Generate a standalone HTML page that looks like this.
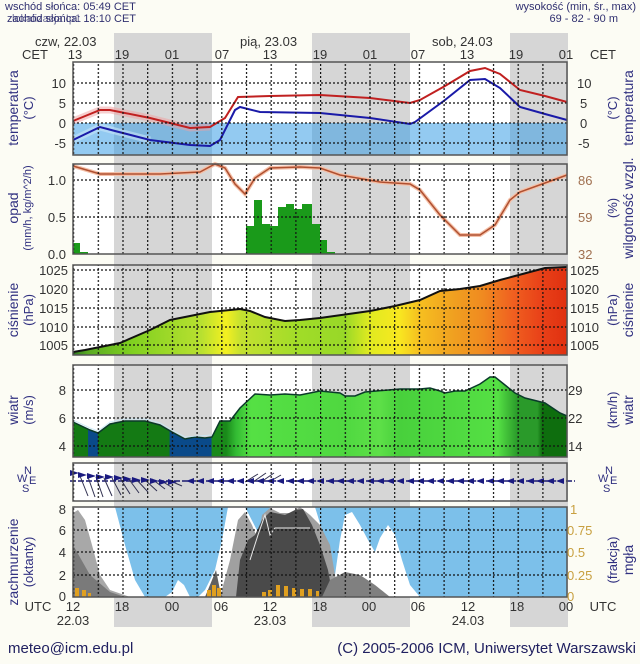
<!DOCTYPE html>
<html><head><meta charset="utf-8"><style>
html,body{margin:0;padding:0;background:#fcfcf4;}
svg{display:block;font-family:"Liberation Sans",sans-serif;}
</style></head><body>
<svg width="640" height="664" viewBox="0 0 640 664" xmlns="http://www.w3.org/2000/svg">
<defs>
<pattern id="vg" x="73" y="0" width="24.7" height="4" patternUnits="userSpaceOnUse"><rect x="0" y="0" width="1.2" height="2" fill="#111"/></pattern>
<linearGradient id="pg" x1="73" x2="567" y1="0" y2="0" gradientUnits="userSpaceOnUse">
<stop offset="0" stop-color="#2f7a20"/><stop offset="0.03" stop-color="#5aaa22"/><stop offset="0.12" stop-color="#80d020"/><stop offset="0.26" stop-color="#b8e030"/><stop offset="0.31" stop-color="#f4f020"/><stop offset="0.34" stop-color="#c4e030"/><stop offset="0.46" stop-color="#a0dc28"/><stop offset="0.55" stop-color="#98d828"/><stop offset="0.6" stop-color="#e0ea20"/><stop offset="0.66" stop-color="#f8e820"/><stop offset="0.7" stop-color="#f6c020"/><stop offset="0.77" stop-color="#f0a020"/><stop offset="0.83" stop-color="#f08a20"/><stop offset="0.89" stop-color="#f06020"/><stop offset="0.95" stop-color="#e84018"/><stop offset="1" stop-color="#e03010"/>
</linearGradient>
<linearGradient id="wg" x1="73" x2="567" y1="0" y2="0" gradientUnits="userSpaceOnUse">
<stop offset="0" stop-color="#147a14"/><stop offset="0.03" stop-color="#147a14"/><stop offset="0.031" stop-color="#0a4a8a"/><stop offset="0.05" stop-color="#0a4a8a"/><stop offset="0.051" stop-color="#147a14"/><stop offset="0.195" stop-color="#147a14"/><stop offset="0.196" stop-color="#0a4a8a"/><stop offset="0.28" stop-color="#0a4a8a"/><stop offset="0.281" stop-color="#1a8a1a"/><stop offset="0.31" stop-color="#1a8a1a"/><stop offset="0.33" stop-color="#33bb33"/><stop offset="0.36" stop-color="#55e044"/><stop offset="0.55" stop-color="#4fd840"/><stop offset="0.62" stop-color="#5ee048"/><stop offset="0.66" stop-color="#48d03c"/><stop offset="0.86" stop-color="#55e044"/><stop offset="0.9" stop-color="#2a9a2a"/><stop offset="0.94" stop-color="#2a9a2a"/><stop offset="0.95" stop-color="#0e6e0e"/><stop offset="1" stop-color="#0e6e0e"/>
</linearGradient>
</defs>

<text x="5" y="10" font-size="11" fill="#303070">wschód słońca: 05:49 CET</text>
<text x="7" y="22" font-size="11" fill="#303070">zachód słońca: 18:10 CET</text>
<text x="12" y="22" font-size="11" fill="#303070" opacity="0.7">lokalizacja:Ip1</text>
<text x="636" y="10" font-size="11" fill="#303070" text-anchor="end">wysokość (min, śr., max)</text>
<text x="618" y="22" font-size="11" fill="#303070" text-anchor="end">69 - 82 - 90 m</text>

<rect x="73" y="62" width="494" height="93" fill="#fff"/>
<rect x="73" y="164" width="494" height="90" fill="#fff"/>
<rect x="73" y="265" width="494" height="90" fill="#fff"/>
<rect x="73" y="365" width="494" height="92" fill="#fff"/>
<rect x="73" y="463" width="494" height="38" fill="#fff"/>

<g fill="#d6d6d6">
<rect x="114" y="33" width="98" height="594"/>
<rect x="312" y="33" width="98" height="594"/>
<rect x="510" y="33" width="58" height="594"/>
</g>
<rect x="73" y="507" width="494" height="90" fill="#fff"/>

<g font-size="13" fill="#333">
<text x="35" y="46">czw, 22.03</text>
<text x="240" y="46">pią, 23.03</text>
<text x="432" y="46">sob, 24.03</text>
<text x="22" y="59">CET</text>
<text x="590" y="59">CET</text>
<g text-anchor="middle">
<text x="75" y="59">13</text><text x="122" y="59">19</text><text x="172" y="59">01</text><text x="222" y="59">07</text><text x="270" y="59">13</text><text x="320" y="59">19</text><text x="370" y="59">01</text><text x="418" y="59">07</text><text x="467" y="59">13</text><text x="516" y="59">19</text><text x="566" y="59">01</text>
</g></g>

<rect x="73" y="123" width="494" height="32" fill="#3a9ee6" opacity="0.55"/>
<polyline fill="none" stroke="#f0a0a0" stroke-width="7" opacity="0.5" points="73,121 100,110 110,110 150,118 190,128 210,127"/>
<polyline fill="none" stroke="#c8e4f8" stroke-width="7" opacity="0.6" points="73,140 100,127 115,131 150,140"/>
<polyline fill="none" stroke="#c02020" stroke-width="2" points="73,121 100,110 110,110 150,118 190,128 210,127 225,118 238,97 270,96 320,95 370,98 410,103 420,100 445,86 470,71 485,68 500,74 520,90 545,96 567,102"/>
<polyline fill="none" stroke="#1a1aa8" stroke-width="2" points="73,140 100,127 115,131 150,140 190,145 210,146 220,140 235,110 240,107 260,112 320,113 370,118 410,124 415,122 445,100 470,80 485,79 500,88 520,107 545,114 567,120"/>

<g fill="#1a9a1a">
<rect x="73" y="243" width="7" height="11"/><rect x="80" y="252" width="8" height="2"/>
<rect x="246" y="226" width="8" height="28"/><rect x="254" y="200" width="8" height="54"/><rect x="262" y="224" width="8" height="30"/><rect x="270" y="226" width="8" height="28"/><rect x="278" y="207" width="8" height="47"/><rect x="286" y="204" width="8" height="50"/><rect x="294" y="209" width="8" height="45"/><rect x="302" y="204" width="10" height="50"/><rect x="312" y="224" width="8" height="30"/><rect x="320" y="240" width="7" height="14"/><rect x="327" y="252" width="8" height="2"/>
</g>
<polyline fill="none" stroke="#f4c0a8" stroke-width="4" points="73,166 100,174 160,174 200,172 215,164 225,168 235,184 245,194 255,178 270,168 300,167 320,168 340,175 380,182 410,184 420,190 440,215 460,235 480,235 495,225 510,200 520,192 545,183 567,175"/>
<polyline fill="none" stroke="#b05030" stroke-width="1.5" points="73,166 100,174 160,174 200,172 215,164 225,168 235,184 245,194 255,178 270,168 300,167 320,168 340,175 380,182 410,184 420,190 440,215 460,235 480,235 495,225 510,200 520,192 545,183 567,175"/>

<polygon fill="url(#pg)" points="73,355 73,352 85,350 110,345 120,343 150,330 170,320 190,316 210,312 240,309 250,311 265,317 285,321 300,320 320,318 370,311 395,306 420,300 440,291 460,289 480,286 500,280 515,276 530,272 545,268 567,267 567,355"/>
<polyline fill="none" stroke="#111" stroke-width="2" points="73,352 85,350 110,345 120,343 150,330 170,320 190,316 210,312 240,309 250,311 265,317 285,321 300,320 320,318 370,311 395,306 420,300 440,291 460,289 480,286 500,280 515,276 530,272 545,268 567,267"/>

<polygon fill="url(#wg)" points="73,457 73,422 90,430 98,433 110,424 125,421 145,421 160,425 172,432 185,439 195,437 205,438 212,437 220,421 230,421 240,408 255,394 270,395 285,394 300,395 320,391 340,393 345,396 355,396 365,392 400,389 420,389 430,388 440,391 445,393 455,391 465,391 480,384 490,377 495,377 505,385 515,393 525,398 545,403 560,413 567,416 567,457"/>
<polyline fill="none" stroke="#0a3a2a" stroke-width="1.5" points="73,422 90,430 98,433 110,424 125,421 145,421 160,425 172,432 185,439 195,437 205,438 212,437 220,421 230,421 240,408 255,394 270,395 285,394 300,395 320,391 340,393 345,396 355,396 365,392 400,389 420,389 430,388 440,391 445,393 455,391 465,391 480,384 490,377 495,377 505,385 515,393 525,398 545,403 560,413 567,416"/>
<polyline fill="none" stroke="#c8e8f8" stroke-width="1" opacity="0.8" points="73,420 90,428 98,431 110,422 125,419 145,419 160,423 172,430 185,437 212,435"/>

<line x1="70" y1="481" x2="575" y2="481" stroke="#1a1a70" stroke-width="1.5" stroke-dasharray="6 2"/>
<g stroke="#303050" stroke-width="1">
<line x1="80" y1="476" x2="88" y2="496"/><line x1="88" y1="477" x2="95" y2="497"/><line x1="96" y1="477" x2="103" y2="497"/><line x1="104" y1="478" x2="112" y2="496"/><line x1="112" y1="478" x2="121" y2="495"/><line x1="120" y1="478" x2="130" y2="494"/><line x1="128" y1="478" x2="139" y2="493"/><line x1="136" y1="479" x2="148" y2="492"/><line x1="144" y1="479" x2="157" y2="491"/><line x1="152" y1="479" x2="165" y2="489"/><line x1="160" y1="480" x2="173" y2="488"/><line x1="168" y1="480" x2="182" y2="486"/>
<line x1="245" y1="482" x2="258" y2="474"/><line x1="253" y1="482" x2="266" y2="473"/><line x1="261" y1="482" x2="274" y2="473"/><line x1="269" y1="482" x2="281" y2="475"/>
</g>
<g fill="#1a1a80">
<path d="M70 470l9 3-9 3z"/><path d="M78 472l9 3-9 3z"/><path d="M87 473l9 3-9 3z"/><path d="M96 474l9 3-9 3z"/><path d="M105 474l9 3-9 3z"/><path d="M114 475l9 3-9 3z"/><path d="M123 476l9 3-9 3z"/><path d="M132 477l9 3-9 3z"/><path d="M141 477l9 3-9 3z"/><path d="M150 478l9 3-9 3z"/><path d="M159 479l9 3-9 3z"/><path d="M168 479l9 3-9 3z"/>
</g>
<g fill="#1a1a80">
<path d="M186 481l8-3v6z"/><path d="M196 481l8-3v6z"/><path d="M206 481l8-3v6z"/><path d="M216 481l8-3v6z"/><path d="M226 481l8-3v6z"/><path d="M236 481l8-3v6z"/><path d="M246 481l8-3v6z"/><path d="M256 481l8-3v6z"/><path d="M266 481l8-3v6z"/><path d="M276 481l8-3v6z"/><path d="M286 481l8-3v6z"/><path d="M296 481l8-3v6z"/><path d="M306 481l8-3v6z"/><path d="M316 481l8-3v6z"/><path d="M326 481l8-3v6z"/><path d="M336 481l8-3v6z"/><path d="M346 481l8-3v6z"/><path d="M356 481l8-3v6z"/><path d="M366 481l8-3v6z"/><path d="M376 481l8-3v6z"/><path d="M386 481l8-3v6z"/><path d="M396 481l8-3v6z"/><path d="M406 481l8-3v6z"/><path d="M416 481l8-3v6z"/><path d="M426 481l8-3v6z"/><path d="M436 481l8-3v6z"/><path d="M446 481l8-3v6z"/><path d="M456 481l8-3v6z"/><path d="M466 481l8-3v6z"/><path d="M476 481l8-3v6z"/><path d="M486 481l8-3v6z"/><path d="M496 481l8-3v6z"/><path d="M506 481l8-3v6z"/><path d="M516 481l8-3v6z"/><path d="M526 481l8-3v6z"/><path d="M536 481l8-3v6z"/><path d="M546 481l8-3v6z"/><path d="M556 481l8-3v6z"/>
</g>

<polygon fill="#7cc0ea" points="115,507 228,507 222,540 215,570 205,590 198,597 190,597 184,585 178,580 172,592 165,597 145,597 135,580 125,545"/>
<polygon fill="#7cc0ea" points="245,507 270,507 262,540"/>
<polygon fill="#7cc0ea" points="315,507 567,507 567,597 420,597 410,585 402,560 395,535 388,525 380,538 375,552 368,540 360,525 352,512 345,515 340,540 335,575 330,560 322,530"/>
<polygon fill="#a8a8a8" points="73,597 73,513 78,510 85,520 92,545 100,575 110,590 130,597"/>
<polygon fill="#7a7a7a" points="73,597 73,545 90,575 110,592 125,597"/>
<polygon fill="#a0a0a0" points="220,597 230,560 238,520 245,512 252,525 258,540 262,515 270,508 280,513 290,513 300,507 310,515 320,525 330,545 335,575 340,597"/>
<polygon fill="#4a4a4a" points="236,597 240,560 248,540 255,535 262,520 270,512 285,515 295,510 303,509 312,525 320,545 328,570 333,597"/>
<polygon fill="#808080" points="322,597 330,580 345,572 360,575 375,585 390,597"/>
<polygon fill="#606060" points="205,597 212,580 216,570 220,590 222,597"/>
<polyline fill="none" stroke="#e8e8e8" stroke-width="1" points="250,560 258,535 265,515 270,535 275,528 290,528 310,528"/>
<g fill="#e0a020">
<rect x="75" y="588" width="4" height="9"/><rect x="82" y="590" width="4" height="7"/><rect x="88" y="593" width="3" height="4"/>
<rect x="207" y="590" width="4" height="7"/><rect x="212" y="585" width="4" height="12"/><rect x="217" y="588" width="4" height="9"/>
<rect x="262" y="592" width="4" height="5"/><rect x="268" y="590" width="4" height="7"/><rect x="276" y="585" width="4" height="12"/><rect x="284" y="586" width="4" height="11"/><rect x="292" y="588" width="4" height="9"/><rect x="300" y="589" width="4" height="8"/><rect x="308" y="589" width="4" height="8"/><rect x="316" y="591" width="3" height="6"/>
</g>

<g>
<rect x="73" y="62" width="494" height="93" fill="url(#vg)"/>
<rect x="73" y="164" width="494" height="90" fill="url(#vg)"/>
<rect x="73" y="265" width="494" height="90" fill="url(#vg)"/>
<rect x="73" y="365" width="494" height="92" fill="url(#vg)"/>
<rect x="73" y="463" width="494" height="38" fill="url(#vg)"/>
<rect x="73" y="507" width="494" height="90" fill="url(#vg)"/>
</g>
<g stroke="#111" stroke-width="1.2" stroke-dasharray="2 2">
<line x1="73" y1="83" x2="567" y2="83"/><line x1="73" y1="103" x2="567" y2="103"/><line x1="73" y1="123" x2="567" y2="123"/><line x1="73" y1="143" x2="567" y2="143"/>
<line x1="73" y1="180" x2="567" y2="180"/><line x1="73" y1="217" x2="567" y2="217"/>
<line x1="73" y1="270" x2="567" y2="270"/><line x1="73" y1="289" x2="567" y2="289"/><line x1="73" y1="308" x2="567" y2="308"/><line x1="73" y1="327" x2="567" y2="327"/><line x1="73" y1="345" x2="567" y2="345"/>
<line x1="73" y1="390" x2="567" y2="390"/><line x1="73" y1="418" x2="567" y2="418"/><line x1="73" y1="446" x2="567" y2="446"/>
<line x1="73" y1="530" x2="567" y2="530"/><line x1="73" y1="552" x2="567" y2="552"/><line x1="73" y1="575" x2="567" y2="575"/>
</g>
<g fill="none" stroke="#555" stroke-width="1.5">
<rect x="73" y="62" width="494" height="93"/>
<rect x="73" y="164" width="494" height="90"/>
<rect x="73" y="265" width="494" height="90"/>
<rect x="73" y="365" width="494" height="92"/>
<rect x="73" y="463" width="494" height="38"/>
<rect x="73" y="507" width="494" height="90"/>
</g>

<g font-size="13" fill="#333" text-anchor="end">
<text x="66" y="88">10</text><text x="66" y="108">5</text><text x="66" y="128">0</text><text x="66" y="148">-5</text>
<text x="66" y="185">1.0</text><text x="66" y="222">0.5</text><text x="66" y="259">0.0</text>
<text x="68" y="275">1025</text><text x="68" y="294">1020</text><text x="68" y="313">1015</text><text x="68" y="332">1010</text><text x="68" y="350">1005</text>
<text x="66" y="395">8</text><text x="66" y="423">6</text><text x="66" y="451">4</text>
<text x="66" y="514">8</text><text x="66" y="535">6</text><text x="66" y="557">4</text><text x="66" y="580">2</text><text x="66" y="601">0</text>
</g>
<g font-size="13" fill="#333">
<text x="577" y="88">10</text><text x="580" y="108">5</text><text x="580" y="128">0</text><text x="578" y="148">-5</text>
<g fill="#a07050"><text x="578" y="185">86</text><text x="578" y="222">59</text><text x="578" y="259">32</text></g>
<text x="570" y="275">1025</text><text x="570" y="294">1020</text><text x="570" y="313">1015</text><text x="570" y="332">1010</text><text x="570" y="350">1005</text>
<text x="568" y="395">29</text><text x="568" y="423">22</text><text x="568" y="451">14</text>
<g fill="#c8a040"><text x="570" y="514">1</text><text x="567" y="535">0.75</text><text x="567" y="557">0.5</text><text x="567" y="580">0.25</text><text x="567" y="601">0</text></g>
</g>

<g font-size="14" fill="#303080" text-anchor="middle">
<text transform="translate(18,108) rotate(-90)">temperatura</text>
<text transform="translate(33,108) rotate(-90)" font-size="13">(°C)</text>
<text transform="translate(18,208) rotate(-90)">opad</text>
<text transform="translate(31,208) rotate(-90)" font-size="11">(mm/h, kg/m^2/h)</text>
<text transform="translate(18,310) rotate(-90)">ciśnienie</text>
<text transform="translate(33,310) rotate(-90)" font-size="13">(hPa)</text>
<text transform="translate(18,410) rotate(-90)">wiatr</text>
<text transform="translate(33,410) rotate(-90)" font-size="13">(m/s)</text>
<text transform="translate(18,562) rotate(-90)">zachmurzenie</text>
<text transform="translate(33,562) rotate(-90)" font-size="13">(oktanty)</text>

<text transform="translate(633,108) rotate(-90)">temperatura</text>
<text transform="translate(617,108) rotate(-90)" font-size="13">(°C)</text>
<text transform="translate(633,208) rotate(-90)">wilgotność wzgl.</text>
<text transform="translate(617,208) rotate(-90)" font-size="13">(%)</text>
<text transform="translate(633,310) rotate(-90)">ciśnienie</text>
<text transform="translate(617,310) rotate(-90)" font-size="13">(hPa)</text>
<text transform="translate(633,410) rotate(-90)">wiatr</text>
<text transform="translate(617,410) rotate(-90)" font-size="13">(km/h)</text>
<text transform="translate(633,560) rotate(-90)">mgła</text>
<text transform="translate(617,560) rotate(-90)" font-size="13">(frakcja)</text>
</g>
<g font-size="11" fill="#303080">
<text x="24" y="474">N</text><text x="17" y="482">W</text><text x="29" y="484">E</text><text x="22" y="492">S</text>
<text x="605" y="474">N</text><text x="598" y="482">W</text><text x="610" y="484">E</text><text x="603" y="492">S</text>
</g>

<g font-size="13" fill="#333" text-anchor="middle">
<text x="38" y="611">UTC</text><text x="603" y="611">UTC</text>
<text x="73" y="611">12</text><text x="122" y="611">18</text><text x="172" y="611">00</text><text x="221" y="611">06</text><text x="270" y="611">12</text><text x="320" y="611">18</text><text x="369" y="611">00</text><text x="418" y="611">06</text><text x="468" y="611">12</text><text x="517" y="611">18</text><text x="566" y="611">00</text>
<text x="73" y="625">22.03</text><text x="270" y="625">23.03</text><text x="468" y="625">24.03</text>
</g>

<text x="8" y="653" font-size="15" fill="#202060">meteo@icm.edu.pl</text>
<text x="636" y="653" font-size="15" fill="#202060" text-anchor="end">(C) 2005-2006 ICM, Uniwersytet Warszawski</text>
</svg>
</body></html>
